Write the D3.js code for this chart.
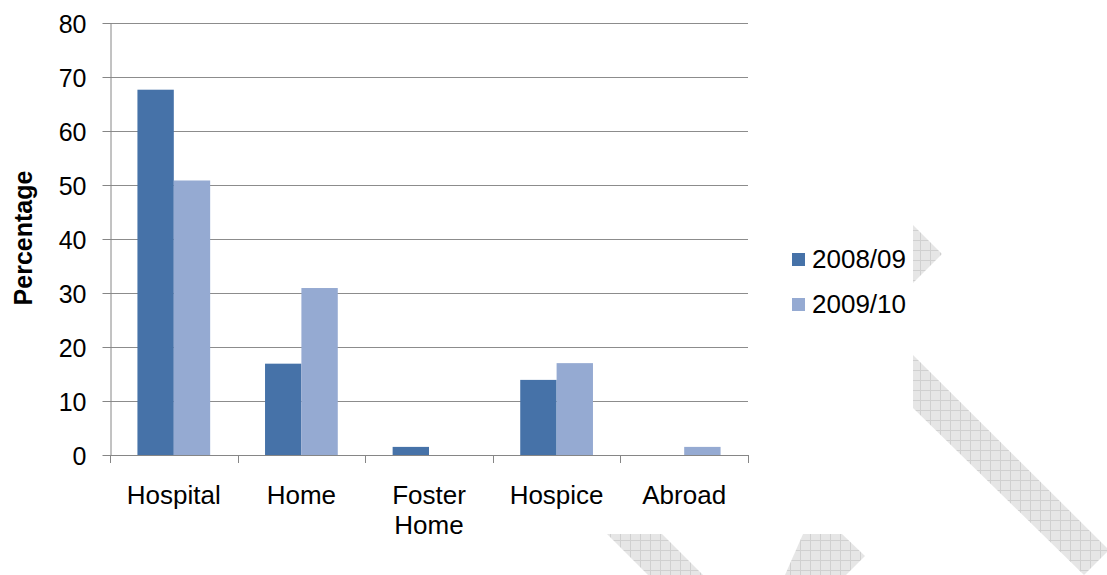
<!DOCTYPE html>
<meta charset="utf-8">
<style>
body { margin: 0; background: #fff; }
text { font-family: "Liberation Sans", Arial, sans-serif; fill: #000; }
</style>
<svg width="1107" height="575"></svg>
<script src="https://d3js.org/d3.v7.min.js"></script>
<script>

// data
var places = ["Hospital", "Home", "Foster Home", "Hospice", "Abroad"];
var years = ["2008/09", "2009/10"];
var y0809 = [67.6, 16.9, 1.5, 13.9, 0];
var y0910 = [50.8, 30.9, 0, 17, 1.5];
var yTicks = [0, 10, 20, 30, 40, 50, 60, 70, 80];

var colors = ["#4672A8", "#95AAD2"];

var svg = d3.select("svg"),
    width = +svg.attr("width"),
    height = +svg.attr("height");

var plotLeft = 110, plotRight = 748, plotTop = 22.7, plotBottom = 455;

// background watermark shapes (decoration, not data)
var defs = svg.append("defs");
var pat = defs.append("pattern")
    .attr("id", "hatch")
    .attr("patternUnits", "userSpaceOnUse")
    .attr("width", 10).attr("height", 10);
pat.append("rect").attr("width", 10).attr("height", 10).attr("fill", "#e6e6e6");
pat.append("path").attr("d", "M0,0.5H10M0.5,0V10")
    .attr("stroke", "#d0d0d0").attr("stroke-width", 1);

var marks = [
  [[913,225],[942,254],[913,283]],
  [[913,355],[1107,548],[1107,552],[1084,575],[913,408]],
  [[607,534],[662,534],[703,575],[648,575]],
  [[803,534],[842,534],[865,556],[846,575],[785,575]]
];
svg.append("g").selectAll("polygon")
  .data(marks)
  .enter().append("polygon")
    .attr("points", function(d) { return d.map(function(p) { return p.join(","); }).join(" "); })
    .attr("fill", "url(#hatch)");

var x = d3.scaleBand()
    .domain(places)
    .range([plotLeft, plotRight])
    .paddingInner(0.43)
    .paddingOuter(0.215);

var x1 = d3.scaleBand()
    .domain(years)
    .range([0, x.bandwidth()]);

var y = d3.scaleLinear()
    .domain([0, 80])
    .range([plotBottom, plotTop]);

// gridlines
svg.append("g").selectAll("line")
  .data(yTicks.slice(1))
  .enter().append("line")
    .attr("x1", plotLeft).attr("x2", plotRight)
    .attr("y1", function(d) { return Math.round(y(d)) + 0.5; })
    .attr("y2", function(d) { return Math.round(y(d)) + 0.5; })
    .attr("stroke", "#8c8c8c");

// bars
var data = places.map(function(p, i) { return {place: p, vals: [y0809[i], y0910[i]]}; });
var group = svg.append("g").selectAll("g")
  .data(data)
  .enter().append("g")
    .attr("transform", function(d) { return "translate(" + x(d.place) + ",0)"; });
group.selectAll("rect")
  .data(function(d) { return d.vals.map(function(v, j) { return {year: years[j], v: v, j: j}; }); })
  .enter().append("rect")
    .attr("x", function(d) { return x1(d.year); })
    .attr("width", x1.bandwidth())
    .attr("y", function(d) { return y(d.v); })
    .attr("height", function(d) { return plotBottom - y(d.v); })
    .attr("fill", function(d) { return colors[d.j]; });

// y axis
var yAxis = svg.append("g")
    .attr("transform", "translate(" + (plotLeft + 0.5) + ",0)")
    .call(d3.axisLeft(y).tickValues(yTicks).tickSize(8).tickPadding(16).tickSizeOuter(0));
yAxis.select(".domain").attr("stroke", "#868686");
yAxis.selectAll(".tick").attr("transform", function(d) {
  return "translate(0," + (Math.round(y(d)) + 0.5) + ")";
});
yAxis.selectAll(".tick line").attr("stroke", "#868686");
yAxis.selectAll(".tick text")
    .attr("font-size", 25).attr("font-family", "Liberation Sans, Arial, sans-serif")
    .attr("dy", "0.36em").attr("fill", "#000");

// x axis line with boundary ticks
var bounds = d3.range(places.length + 1).map(function(i) { return plotLeft + i * x.step(); });
svg.append("line")
    .attr("x1", plotLeft).attr("x2", plotRight)
    .attr("y1", plotBottom + 0.5).attr("y2", plotBottom + 0.5)
    .attr("stroke", "#868686");
svg.append("g").selectAll("line")
  .data(bounds)
  .enter().append("line")
    .attr("x1", function(d) { return Math.round(d) + 0.5; })
    .attr("x2", function(d) { return Math.round(d) + 0.5; })
    .attr("y1", plotBottom).attr("y2", plotBottom + 8)
    .attr("stroke", "#868686");

// category labels
svg.append("g").selectAll("text")
  .data(places)
  .enter().append("text")
    .attr("x", function(d) { return x(d) + x.bandwidth() / 2; })
    .attr("y", 504)
    .attr("text-anchor", "middle")
    .attr("font-size", 26)
    .each(function(d) {
      var words = d.split(" ");
      var t = d3.select(this);
      words.forEach(function(w, k) {
        t.append("tspan")
          .attr("x", x(d) + x.bandwidth() / 2)
          .attr("dy", k ? 30 : 0)
          .text(w);
      });
    });

// y title
svg.append("text")
    .attr("transform", "translate(32,238) rotate(-90)")
    .attr("text-anchor", "middle")
    .attr("font-size", 25)
    .attr("font-weight", "bold")
    .text("Percentage");

// legend
var legend = svg.append("g").selectAll("g")
  .data(years)
  .enter().append("g")
    .attr("transform", function(d, i) { return "translate(792," + (253 + i * 45) + ")"; });
legend.append("rect")
    .attr("width", 13).attr("height", 13)
    .attr("fill", function(d, i) { return colors[i]; });
legend.append("text")
    .attr("x", 20).attr("y", 15)
    .attr("font-size", 26)
    .text(function(d) { return d; });

</script>
